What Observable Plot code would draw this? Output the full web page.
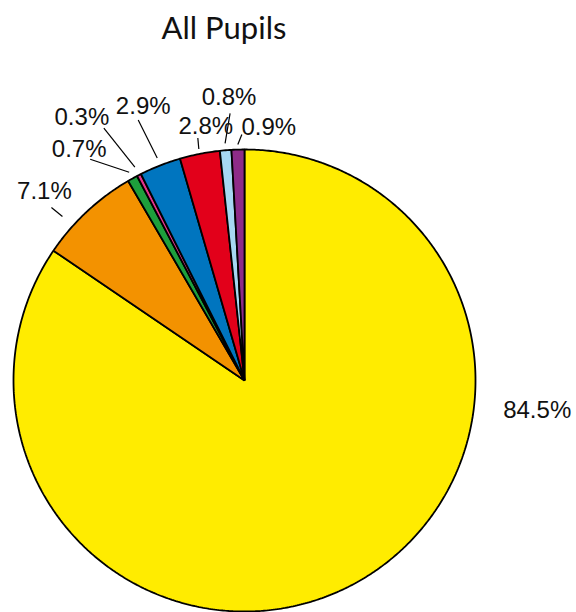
<!DOCTYPE html>
<html>
<head>
<meta charset="utf-8">
<script src="https://cdn.jsdelivr.net/npm/d3@7"></script>
<script src="https://cdn.jsdelivr.net/npm/@observablehq/plot@0.6"></script>
<style>
  html, body { margin: 0; padding: 0; background: #fff; }
  #title { position: relative; height: 60px; width: 576px; }
  #title span { position: absolute; left: 224px; top: 38px; transform: translate(-50%, -80%);
    font-family: "Lato", "Noto Sans", sans-serif; font-size: 31px; font-weight: 400; color: #111; white-space: nowrap; }
  #chart svg { display: block; }
</style>
</head>
<body>
<div id="title"><span>All Pupils</span></div>
<div id="chart"></div>
<script>
// ---- data ----
const categories = ["Category 1", "Category 2", "Category 3", "Category 4", "Category 5", "Category 6", "Category 7", "Category 8"];
const values = [84.5, 7.1, 0.7, 0.3, 2.9, 2.8, 0.8, 0.9];
const labels = ["84.5%", "7.1%", "0.7%", "0.3%", "2.9%", "2.8%", "0.8%", "0.9%"];
const colors = ["#ffec00", "#f39200", "#1e9f3c", "#e5338b", "#0075bf", "#e2001a", "#a6d8f2", "#8e2c88"];

// ---- label layout (leader anchor angle override in degrees, leader vector, text offset) ----
const labelLayout = [
  { angle: 96, extra: 7, line: null, text: [56, 5] },
  { angle: 312, extra: 14, line: [-11, -9], text: [-7, -16] },
  { angle: null, extra: 7, line: [-39, -13], text: [-11, -10] },
  { angle: null, extra: 9, line: [-31, -39], text: [-22, -11] },
  { angle: null, extra: 8, line: [-19, -38], text: [5, -14] },
  { angle: null, extra: 5, line: [-1, -11], text: [8, -12] },
  { angle: null, extra: 7, line: [5, -30], text: [-1, -16] },
  { angle: null, extra: 5, line: [4, -10], text: [27, -7] }
];

const W = 576, H = 552;
const cx = 244, cy = 320, R = 231;

const arcs = d3.pie().sort(null).startAngle(0).endAngle(2 * Math.PI)(values);
const pt = (a, r) => [cx + r * Math.sin(a), cy - r * Math.cos(a)];

const slicePts = [];
arcs.forEach((a, i) => {
  slicePts.push({ key: categories[i], color: colors[i], x: cx, y: cy });
  const n = Math.max(2, Math.ceil((a.endAngle - a.startAngle) / (Math.PI / 360)));
  for (let k = 0; k <= n; k++) {
    const t = a.startAngle + (a.endAngle - a.startAngle) * k / n;
    const [x, y] = pt(t, R);
    slicePts.push({ key: categories[i], color: colors[i], x, y });
  }
});

const leaders = [];
const texts = [];
arcs.forEach((a, i) => {
  const L = labelLayout[i];
  const ang = L.angle != null ? L.angle * Math.PI / 180 : (a.startAngle + a.endAngle) / 2;
  const [x1, y1] = pt(ang, R + L.extra);
  let x2 = x1, y2 = y1;
  if (L.line) {
    x2 = x1 + L.line[0]; y2 = y1 + L.line[1];
    leaders.push({ x1, y1, x2, y2 });
  }
  texts.push({ x: x2 + L.text[0], y: y2 + L.text[1], label: labels[i] });
});

const chart = Plot.plot({
  width: W,
  height: H,
  margin: 0,
  x: { domain: [0, W], range: [0, W], axis: null },
  y: { domain: [0, H], range: [0, H], axis: null },
  color: { type: "identity" },
  style: { background: "#fff" },
  marks: [
    Plot.line(slicePts, { x: "x", y: "y", z: "key", fill: "color", stroke: "#000", strokeWidth: 1.8, curve: "linear-closed", strokeLinejoin: "miter" }),
    Plot.link(leaders, { x1: "x1", y1: "y1", x2: "x2", y2: "y2", stroke: "#000", strokeWidth: 1.2 }),
    Plot.text(texts, { x: "x", y: "y", text: "label", fontSize: 24, fontFamily: "Liberation Sans, Arial, sans-serif", fill: "#111", textAnchor: "middle", lineAnchor: "middle" })
  ]
});
document.getElementById("chart").appendChild(chart);
</script>
</body>
</html>
